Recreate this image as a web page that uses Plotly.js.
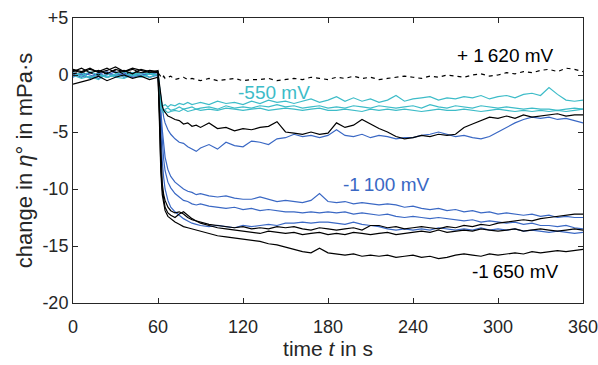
<!DOCTYPE html>
<html>
<head>
<meta charset="utf-8">
<script src="https://cdn.plot.ly/plotly-3.0.1.min.js"></script>
<style>html,body{margin:0;padding:0;background:#fff;}#chart{width:598px;height:365px;}</style>
</head>
<body>
<div id="chart"></div>
<script>
// time axis (s)
const time = [0,6,12,18,24,30,36,42,48,54,60,
  61,62,63,64,65,67,69,72,75,78,81,84,87,90,
  96,102,108,114,120, 126,132,138,144,150, 156,162,168,174,180,
  186,192,198,204,210, 216,222,228,234,240, 246,252,258,264,270,
  276,282,288,294,300, 306,312,318,324,330, 336,342,348,354,360];

// +1620 mV (dashed black)
const pos1620 = [0.1,0.3,0.2,0.0,0.2,0.4,0.1,0.3,0.2,0.3,0.2,
  0.0,-0.2,-0.3,-0.1,-0.3,-0.2,-0.1,-0.4,-0.3,-0.2,-0.4,-0.3,-0.4,-0.5,
  -0.3,-0.5,-0.4,-0.3,-0.5, -0.4,-0.4,-0.3,-0.5,-0.4, -0.3,-0.4,-0.2,-0.3,-0.4,
  -0.2,-0.3,-0.1,-0.3,-0.2, -0.4,-0.3,-0.2,-0.1,-0.2, -0.3,-0.1,-0.2,0.0,-0.1,
  -0.2,0.0,0.1,-0.1,0.0, 0.2,0.1,0.3,0.2,0.4, 0.5,0.3,0.6,0.5,0.3];

// -550 mV (cyan)
const n550a = [0.2,-0.1,0.3,0.0,-0.2,0.1,0.3,0.0,0.2,0.1,0.3,
  -1.0,-2.2,-2.6,-2.7,-2.6,-2.8,-2.6,-2.7,-2.5,-2.6,-2.4,-2.6,-2.5,-2.4,
  -2.6,-2.3,-2.5,-2.4,-2.6, -2.3,-2.5,-2.2,-2.4,-2.3, -2.5,-2.3,-2.1,-2.4,-2.2,
  -1.9,-2.3,-2.0,-2.3,-2.1, -2.4,-2.2,-1.8,-2.3,-2.1, -2.0,-1.9,-2.2,-2.0,-2.1,
  -1.9,-2.0,-1.8,-2.1,-1.9, -1.8,-2.0,-1.7,-1.6,-1.8, -1.1,-1.7,-2.2,-2.3,-2.2];
const n550b = [-0.1,0.2,-0.3,0.1,-0.2,0.0,-0.1,0.2,0.0,-0.2,0.1,
  -1.5,-2.6,-3.0,-3.1,-3.0,-2.9,-3.1,-3.0,-2.8,-3.0,-2.9,-2.8,-3.0,-2.9,
  -2.8,-3.0,-2.7,-2.9,-2.8, -2.9,-2.7,-2.8,-2.6,-2.8, -2.7,-2.9,-2.8,-2.7,-2.9,
  -2.8,-2.9,-2.7,-2.8,-2.9, -2.7,-2.8,-2.9,-2.8,-2.7, -2.9,-2.6,-2.8,-2.9,-2.7,
  -2.8,-2.9,-2.7,-2.8,-2.9, -2.8,-2.9,-3.0,-2.9,-3.0, -3.0,-3.1,-3.0,-2.9,-3.0];
const n550c = [0.0,-0.3,-0.1,-0.4,0.1,-0.2,-0.3,0.0,-0.2,0.1,0.0,
  -1.8,-2.9,-3.2,-3.3,-3.1,-3.3,-3.2,-3.1,-3.2,-3.0,-3.2,-3.1,-3.0,-3.1,
  -3.0,-3.1,-2.9,-3.0,-3.1, -3.0,-2.9,-3.1,-3.0,-2.9, -3.0,-3.1,-3.0,-2.9,-3.1,
  -3.1,-3.0,-3.1,-3.2,-3.0, -3.1,-3.0,-3.1,-3.0,-3.1, -3.2,-3.1,-3.0,-3.1,-3.1,
  -3.0,-3.1,-3.2,-3.1,-3.0, -3.1,-3.2,-3.1,-3.2,-3.1, -3.2,-3.1,-3.2,-3.1,-3.0];

// intermediate black and blue runs
const midBlack = [0.4,0.2,0.5,0.3,0.6,0.2,0.4,0.1,0.5,0.3,0.2,
  -0.8,-2.0,-2.7,-3.1,-3.3,-3.6,-3.7,-3.9,-4.0,-4.3,-4.2,-4.5,-4.4,-4.6,
  -4.2,-4.7,-4.6,-4.9,-4.7, -4.8,-4.6,-4.5,-4.1,-5.0, -5.1,-5.2,-5.0,-5.2,-5.1,
  -4.2,-4.6,-4.4,-3.9,-4.3, -4.7,-5.0,-5.4,-5.6,-5.5, -5.3,-5.4,-5.2,-5.3,-5.2,
  -4.6,-4.3,-4.0,-3.7,-3.8, -3.6,-3.8,-3.5,-3.7,-3.6, -3.5,-3.4,-3.6,-3.5,-3.5];
const midBlue = [-0.2,0.2,0.0,-0.3,0.1,-0.1,0.2,-0.2,0.0,0.1,-0.1,
  -1.0,-2.2,-3.0,-3.7,-4.2,-4.8,-5.2,-5.6,-5.9,-6.0,-6.3,-6.5,-6.7,-6.4,
  -6.1,-6.5,-5.9,-6.2,-6.3, -5.8,-5.9,-6.1,-5.6,-5.5, -5.2,-5.4,-5.3,-5.5,-5.3,
  -4.8,-5.3,-5.4,-5.2,-5.5, -5.3,-5.4,-5.6,-5.5,-5.5, -5.3,-5.2,-5.0,-5.2,-5.4,
  -5.3,-5.5,-5.6,-5.4,-5.0, -4.6,-4.2,-3.9,-3.7,-3.8, -3.7,-3.9,-3.8,-4.0,-4.2];

// -1100 mV (blue)
const n1100a = [0.1,-0.2,0.2,-0.1,0.0,0.3,-0.2,0.1,-0.1,0.2,0.0,
  -1.2,-3.0,-4.8,-6.2,-7.2,-8.3,-8.9,-9.4,-9.7,-10.0,-10.2,-10.3,-10.5,-10.4,
  -10.6,-10.7,-10.6,-10.8,-10.9, -10.9,-10.7,-10.9,-11.1,-11.0, -11.1,-11.2,-11.0,-10.4,-11.1,
  -11.2,-11.1,-11.3,-11.2,-11.3, -11.4,-11.3,-11.4,-11.6,-11.5, -11.7,-11.8,-11.7,-11.9,-11.8,
  -12.0,-11.9,-12.1,-12.0,-12.2, -12.1,-12.2,-12.3,-12.2,-12.4, -12.3,-12.5,-12.4,-12.5,-12.5];
const n1100b = [-0.1,0.1,-0.3,0.2,-0.2,0.0,0.1,-0.1,0.2,-0.2,0.0,
  -1.5,-3.8,-6.0,-7.4,-8.4,-9.4,-9.9,-10.4,-10.7,-11.0,-11.1,-11.3,-11.4,-11.3,
  -11.5,-11.6,-11.7,-11.6,-11.8, -11.7,-11.9,-11.8,-11.9,-12.0, -12.0,-12.1,-12.0,-12.1,-12.0,
  -12.1,-12.0,-12.2,-12.1,-12.2, -12.3,-12.2,-12.4,-12.5,-12.4, -12.5,-12.6,-12.5,-12.6,-12.7,
  -12.8,-12.7,-12.9,-12.8,-12.9, -13.0,-12.9,-13.1,-13.0,-13.2, -13.2,-13.3,-13.2,-13.4,-13.5];
const n1100c = [0.2,0.0,-0.2,0.1,0.3,-0.1,0.0,0.2,-0.1,0.1,0.2,
  -2.0,-5.0,-7.5,-9.0,-10.0,-11.0,-11.6,-12.0,-12.3,-12.6,-12.8,-13.0,-13.1,-13.2,
  -13.3,-13.2,-13.3,-13.4,-13.2, -13.3,-13.2,-13.1,-13.2,-13.0, -13.0,-12.9,-13.0,-12.9,-12.9,
  -13.0,-13.1,-12.9,-13.1,-13.2, -13.3,-13.5,-13.6,-13.5,-13.6, -13.5,-13.6,-13.4,-13.5,-13.6,
  -13.5,-13.6,-13.4,-13.6,-13.5, -13.6,-13.5,-13.7,-13.6,-13.7, -13.8,-13.7,-13.8,-13.9,-13.8];

// -1650 mV (black)
const n1650a = [0.5,0.3,0.6,0.2,0.4,0.7,0.3,0.5,0.2,0.4,0.3,
  -3.0,-7.5,-9.5,-10.5,-11.0,-11.6,-11.9,-12.1,-12.0,-12.2,-12.5,-12.7,-12.8,-12.9,
  -13.1,-13.2,-13.3,-13.4,-13.3, -13.5,-13.4,-13.5,-13.3,-13.4, -13.3,-13.5,-13.6,-13.4,-13.5,
  -13.6,-13.5,-13.4,-13.6,-13.2, -13.2,-13.4,-13.3,-13.5,-13.4, -13.3,-13.4,-13.5,-13.3,-13.4,
  -13.2,-13.3,-13.1,-13.2,-13.0, -12.9,-12.8,-12.7,-12.8,-12.6, -12.5,-12.4,-12.3,-12.2,-12.2];
const n1650b = [-0.8,-0.6,-0.4,-0.1,-0.5,-0.2,0.0,-0.3,-0.1,-0.4,-0.2,
  -3.5,-8.0,-10.0,-11.0,-11.6,-12.1,-12.3,-12.5,-12.2,-12.0,-12.3,-12.6,-12.8,-13.0,
  -13.2,-13.4,-13.5,-13.6,-13.7, -13.8,-13.9,-13.7,-13.8,-13.9, -13.8,-14.0,-13.9,-13.8,-14.0,
  -13.9,-14.0,-13.8,-13.9,-14.0, -13.9,-13.8,-14.0,-13.9,-13.8, -13.7,-13.8,-13.6,-13.8,-13.7,
  -13.6,-13.7,-13.5,-13.6,-13.7, -13.6,-13.5,-13.7,-13.6,-13.5, -13.6,-13.7,-13.6,-13.5,-13.6];
const n1650c = [0.3,0.6,0.2,0.4,0.1,0.5,0.3,0.6,0.4,0.2,0.4,
  -4.0,-8.5,-10.5,-11.4,-11.9,-12.4,-12.6,-12.9,-13.1,-13.3,-13.4,-13.5,-13.6,-13.7,
  -13.9,-14.1,-14.2,-14.3,-14.4, -14.5,-14.6,-14.8,-14.9,-15.1, -15.3,-15.5,-15.6,-15.2,-15.6,
  -15.7,-15.8,-15.7,-15.9,-15.8, -15.9,-15.8,-16.0,-15.9,-15.8, -16.0,-15.9,-16.1,-16.0,-15.8,
  -15.7,-15.8,-15.9,-15.7,-15.8, -15.7,-15.6,-15.7,-15.5,-15.6, -15.5,-15.4,-15.5,-15.4,-15.3];

const yTickVals = [-20,-15,-10,-5,0,5];
const yTickText = ['-20','-15','-10','-5','0','+5'];
const xTickVals = [0,60,120,180,240,300,360];

const labels = [
  {text:'+ 1\u2009620 mV', x:305, y:1.7, color:'#000000'},
  {text:'-550 mV', x:142, y:-1.5, color:'#3dbcc8'},
  {text:'-1\u2009100 mV', x:221, y:-9.6, color:'#3a68c4'},
  {text:'-1\u2009650 mV', x:312, y:-17.2, color:'#000000'}
];

const BLACK = '#000000', CYAN = '#3dbcc8', BLUE = '#3a68c4';
function tr(y, color, dash) {
  return {x: time, y: y, type: 'scatter', mode: 'lines',
    line: {color: color, width: 1.2, dash: dash || 'solid'}, hoverinfo: 'skip'};
}
const data = [
  tr(midBlue, BLUE), tr(n1100a, BLUE), tr(n1100b, BLUE), tr(n1100c, BLUE),
  tr(n550a, CYAN), tr(n550b, CYAN), tr(n550c, CYAN),
  tr(midBlack, BLACK), tr(n1650a, BLACK), tr(n1650b, BLACK), tr(n1650c, BLACK),
  tr(pos1620, BLACK, '4px,4px')
];

const FONT = 'Liberation Sans, Arial, sans-serif';
const axisCommon = {
  showline: true, linecolor: '#262626', linewidth: 1, mirror: 'ticks',
  ticks: 'inside', ticklen: 5, tickcolor: '#262626', tickwidth: 1,
  showgrid: false, zeroline: false, ticklabeloverflow: 'allow',
  tickfont: {family: FONT, size: 18, color: '#262626'}
};
const layout = {
  width: 598, height: 365,
  margin: {l: 73, r: 15, t: 18, b: 62},
  paper_bgcolor: '#ffffff', plot_bgcolor: '#ffffff',
  showlegend: false,
  font: {family: FONT, color: '#262626'},
  xaxis: Object.assign({}, axisCommon, {
    range: [0, 360], tickvals: xTickVals, ticktext: xTickVals.map(String),
    ticklabelstandoff: 7,
    title: {text: 'time <i>t</i> in s', font: {family: FONT, size: 21, color: '#262626'}, standoff: 2}
  }),
  yaxis: Object.assign({}, axisCommon, {
    range: [-20, 5], tickvals: yTickVals, ticktext: yTickText,
    title: {text: 'change in <i>η</i>° in mPa·s', font: {family: FONT, size: 22, color: '#262626'}, standoff: 3}
  }),
  annotations: labels.map(l => ({
    x: l.x, y: l.y, xref: 'x', yref: 'y', text: l.text, showarrow: false,
    font: {family: FONT, size: 19, color: l.color}, xanchor: 'center', yanchor: 'middle'
  }))
};
Plotly.newPlot('chart', data, layout, {staticPlot: true, displayModeBar: false});
</script>
</body>
</html>
